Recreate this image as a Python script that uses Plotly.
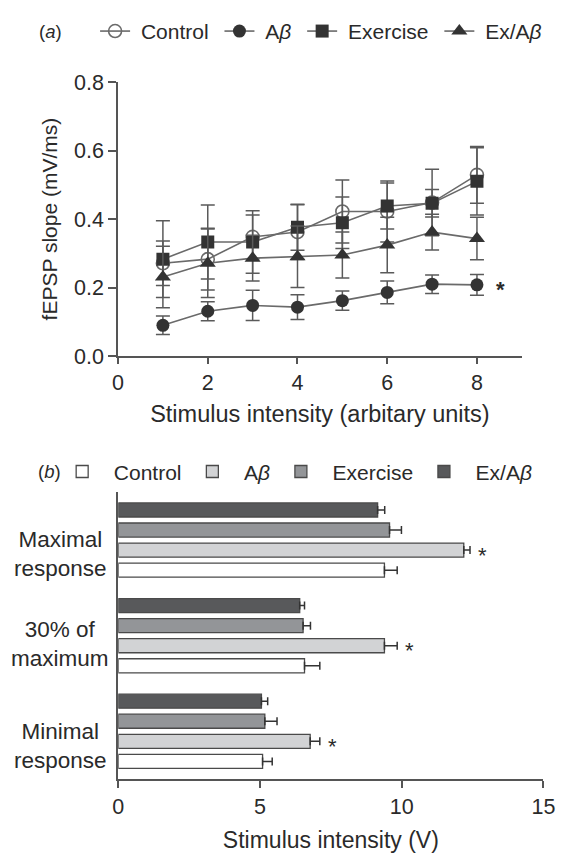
import plotly.graph_objects as go

W, H = 568, 865

# ---------------- data: panel (a) ----------------
stim = [1, 2, 3, 4, 5, 6, 7, 8]
ctrl_a = [0.271, 0.283, 0.348, 0.362, 0.422, 0.422, 0.448, 0.529]
ctrl_a_err = [0.065, 0.090, 0.064, 0.080, 0.092, 0.089, 0.097, 0.083]
ab_a = [0.090, 0.131, 0.148, 0.143, 0.162, 0.186, 0.210, 0.208]
ab_a_err = [0.027, 0.028, 0.044, 0.036, 0.028, 0.033, 0.027, 0.030]
ex_a = [0.283, 0.333, 0.333, 0.376, 0.389, 0.438, 0.446, 0.510]
ex_a_err = [0.112, 0.108, 0.091, 0.067, 0.075, 0.067, 0.040, 0.098]
exab_a = [0.231, 0.271, 0.286, 0.290, 0.295, 0.324, 0.362, 0.343]
exab_a_err = [0.090, 0.100, 0.067, 0.090, 0.067, 0.081, 0.052, 0.062]

# ---------------- data: panel (b) ----------------
cats_b = ["Minimal<br>response", "30% of<br>maximum", "Maximal<br>response"]
ctrl_b = [5.09, 6.57, 9.39]
ctrl_b_err = [0.34, 0.54, 0.45]
ab_b = [6.77, 9.39, 12.19]
ab_b_err = [0.34, 0.45, 0.22]
ex_b = [5.17, 6.52, 9.57]
ex_b_err = [0.43, 0.26, 0.42]
exab_b = [5.05, 6.40, 9.15]
exab_b_err = [0.22, 0.17, 0.25]

series_names = ["Control", "A<i>β</i>", "Exercise", "Ex/A<i>β</i>"]

FONT = "Liberation Sans"
AX = "#555555"
TXT = "#2a2a2a"
NB = "\u00a0"


def px_x(p):
    return p / W


def px_y(p):
    return 1 - p / H


def padded(name, lead, last):
    return NB * lead + name + ("" if last else NB)


fig = go.Figure()

# ---------- panel (a) traces ----------
line_col = "#6a6a6a"
mark_col = "#333333"
specs_a = [
    (ctrl_a, ctrl_a_err, "circle-open"),
    (ab_a, ab_a_err, "circle"),
    (ex_a, ex_a_err, "square"),
    (exab_a, exab_a_err, "triangle-up"),
]
for i, (vals, errs, sym) in enumerate(specs_a):
    is_open = sym.endswith("open")
    fig.add_trace(go.Scatter(
        x=stim, y=vals, name=padded(series_names[i], 1, i == 3), mode="lines+markers",
        xaxis="x", yaxis="y", legend="legend",
        line=dict(color=line_col, width=1.6),
        marker=dict(symbol=sym, size=13 if sym != "triangle-up" else 14,
                    color=line_col if is_open else mark_col,
                    line=dict(color=line_col if is_open else mark_col,
                              width=1.6 if is_open else 0)),
        error_y=dict(type="data", array=errs, visible=True,
                     color="#5a5a5a", thickness=1.5, width=7),
    ))

# ---------- panel (b) traces ----------
fills = ["#ffffff", "#d2d3d5", "#939598", "#58595b"]
specs_b = [(ctrl_b, ctrl_b_err), (ab_b, ab_b_err), (ex_b, ex_b_err), (exab_b, exab_b_err)]
for i, (vals, errs) in enumerate(specs_b):
    fig.add_trace(go.Bar(
        x=vals, y=cats_b, orientation="h", name=padded(series_names[i], 2, i == 3),
        xaxis="x2", yaxis="y2", legend="legend2",
        marker=dict(color=fills[i], line=dict(color="#4a4a4a", width=1.3)),
        error_x=dict(type="data", symmetric=False, array=errs,
                     arrayminus=[0] * len(errs), visible=True,
                     color="#333333", thickness=1.5, width=4),
    ))

BARGAP = 0.16
slot = (1 - BARGAP) / 4

annotations = []
# significance star panel (a)
annotations.append(dict(x=stim[-1], y=ab_a[-1], xref="x", yref="y", text="<b>*</b>",
                        showarrow=False, xanchor="left", xshift=17, yshift=-5,
                        font=dict(family=FONT, size=22, color=TXT)))
# significance stars panel (b) next to A-beta bars
ab_offset = (1 - 1.5) * slot
for k, c in enumerate(cats_b):
    annotations.append(dict(x=ab_b[k] + ab_b_err[k], y=k + ab_offset, xref="x2", yref="y2",
                            text="*", showarrow=False, xanchor="left", xshift=6, yshift=-5,
                            font=dict(family=FONT, size=22, color=TXT)))
# category labels (centered, multi-line)
label_shift = [-15, -8, -14]
for k, c in enumerate(cats_b):
    annotations.append(dict(x=px_x(56), y=k, xref="paper", yref="y2", text=c,
                            showarrow=False, xanchor="center", yanchor="middle", align="center",
                            yshift=label_shift[k],
                            font=dict(family=FONT, size=22.5, color=TXT)))
# panel letters
annotations.append(dict(x=px_x(32), y=px_y(21), xref="paper", yref="paper", text="(<i>a</i>)",
                        showarrow=False, xanchor="left", yanchor="middle",
                        font=dict(family=FONT, size=18.5, color=TXT)))
annotations.append(dict(x=px_x(31), y=px_y(474), xref="paper", yref="paper", text="(<i>b</i>)",
                        showarrow=False, xanchor="left", yanchor="middle",
                        font=dict(family=FONT, size=18.5, color=TXT)))

axis_common = dict(showline=True, linecolor=AX, linewidth=1.5, ticks="outside",
                   tickcolor=AX, tickwidth=1.5, showgrid=False, zeroline=False,
                   tickfont=dict(family=FONT, size=21.5, color=TXT))

fig.update_layout(
    width=W, height=H,
    margin=dict(l=0, r=0, t=0, b=0),
    paper_bgcolor="white", plot_bgcolor="white",
    font=dict(family=FONT, color=TXT),
    barmode="group", bargap=BARGAP, bargroupgap=0.3,
    xaxis=dict(domain=[px_x(115.7), px_x(532.7)], anchor="y", range=[0, 9],
               tickvals=[0, 2, 4, 6, 8], ticklen=6,
               title=dict(text="Stimulus intensity (arbitary units)", standoff=12,
                          font=dict(family=FONT, size=23.5, color=TXT)),
               **axis_common),
    yaxis=dict(domain=[px_y(355), px_y(73)], anchor="x", range=[0, 0.8],
               tickvals=[0, 0.2, 0.4, 0.6, 0.8], tickformat=".1f", ticklen=8,
               title=dict(text="fEPSP slope (mV/ms)", standoff=11,
                          font=dict(family=FONT, size=21, color=TXT)),
               **axis_common),
    xaxis2=dict(domain=[px_x(116), px_x(555)], anchor="y2", range=[0, 15],
                tickvals=[0, 5, 10, 15], ticklen=7,
                title=dict(text="Stimulus intensity (V)", standoff=14,
                           font=dict(family=FONT, size=23, color=TXT)),
                **axis_common),
    yaxis2=dict(domain=[px_y(790), px_y(495)], anchor="x2", range=[-0.5, 2.5],
                showline=True, linecolor=AX, linewidth=1.5, ticks="",
                showticklabels=False, showgrid=False, zeroline=False),
    legend=dict(orientation="h", x=px_x(92), y=px_y(21), xanchor="left", yanchor="middle",
                bgcolor="rgba(0,0,0,0)", font=dict(family=FONT, size=21, color=TXT)),
    legend2=dict(orientation="h", x=px_x(58), y=px_y(474), xanchor="left", yanchor="middle",
                 bgcolor="rgba(0,0,0,0)", font=dict(family=FONT, size=21, color=TXT),
                 traceorder="normal"),
    annotations=annotations,
    showlegend=True,
)

fig.write_html("out.html")
